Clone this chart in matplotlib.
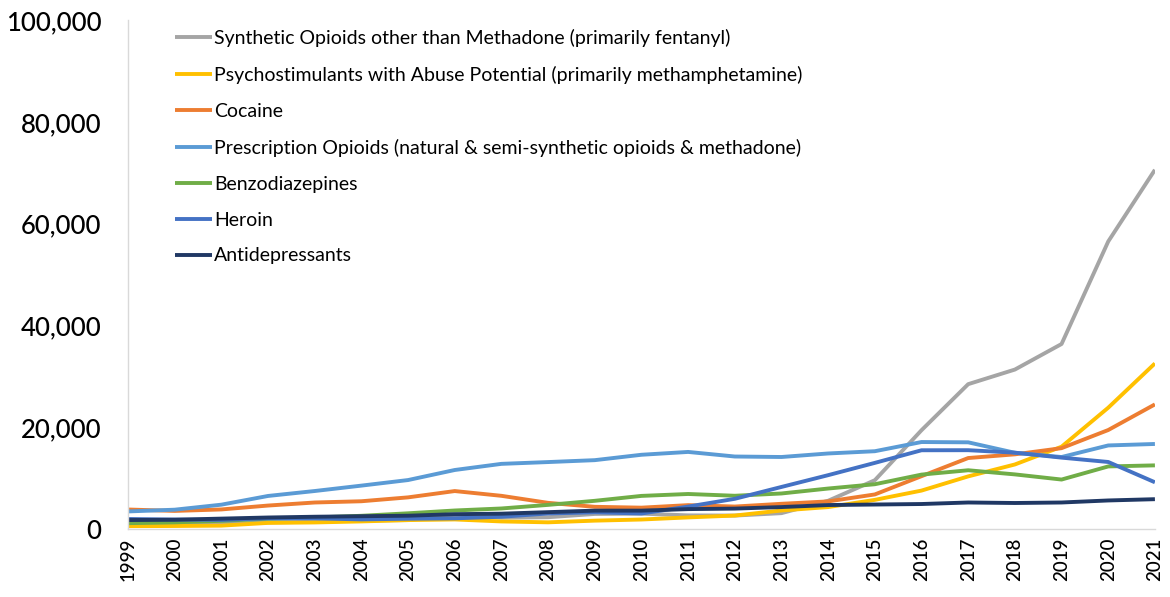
import matplotlib
matplotlib.use("Agg")
import matplotlib.pyplot as plt
from matplotlib.ticker import FuncFormatter

years = list(range(1999, 2022))

synthetic = [730, 782, 957, 1295, 1400, 1664, 1742, 2707, 2213, 2306, 2946, 3007,
             2666, 2628, 3105, 5544, 9580, 19413, 28466, 31335, 36359, 56516, 70601]
psychostim = [547, 578, 650, 1189, 1277, 1478, 1742, 1865, 1475, 1302, 1632, 1854,
              2266, 2635, 3627, 4298, 5716, 7542, 10333, 12676, 16167, 23837, 32537]
cocaine = [3822, 3544, 3833, 4599, 5199, 5443, 6208, 7448, 6512, 5129, 4350, 4183,
           4681, 4404, 4944, 5415, 6784, 10375, 13942, 14666, 15883, 19447, 24486]
rx_opioids = [3442, 3785, 4770, 6485, 7456, 8517, 9612, 11589, 12796, 13149, 13523, 14583,
              15140, 14240, 14145, 14838, 15281, 17087, 17029, 14975, 14139, 16416, 16706]
benzos = [1135, 1298, 1594, 2008, 2248, 2585, 3076, 3627, 4024, 4731, 5530, 6497,
          6872, 6524, 6973, 7945, 8791, 10684, 11537, 10724, 9711, 12290, 12499]
heroin = [1960, 1842, 1779, 2089, 2080, 1878, 2009, 2088, 2399, 3041, 3278, 3036,
          4397, 5925, 8257, 10574, 12989, 15469, 15482, 14996, 14019, 13165, 9173]
antidep = [1749, 1810, 2030, 2250, 2400, 2500, 2600, 2900, 3000, 3300, 3600, 3600,
           3900, 4000, 4300, 4700, 4800, 4900, 5200, 5100, 5200, 5600, 5850]

labels = [
    "Synthetic Opioids other than Methadone (primarily fentanyl)",
    "Psychostimulants with Abuse Potential (primarily methamphetamine)",
    "Cocaine",
    "Prescription Opioids (natural & semi-synthetic opioids & methadone)",
    "Benzodiazepines",
    "Heroin",
    "Antidepressants",
]
series = [synthetic, psychostim, cocaine, rx_opioids, benzos, heroin, antidep]
colors = ["#A5A5A5", "#FFC000", "#ED7D31", "#5B9BD5", "#70AD47", "#4472C4", "#203864"]

plt.rcParams["font.family"] = ["Lato", "DejaVu Sans"]

fig = plt.figure(figsize=(11.7, 5.97), dpi=100)
ax = fig.add_axes([0.1094, 0.114, 0.8777, 0.852])

for vals, lab, c in zip(series, labels, colors):
    ax.plot(years, vals, color=c, lw=2.8, label=lab, solid_capstyle="butt")

ax.set_xlim(1999, 2021)
ax.set_ylim(0, 100000)
ax.set_yticks(range(0, 100001, 20000))
ax.yaxis.set_major_formatter(FuncFormatter(lambda v, p: f"{int(v):,}"))
ax.set_xticks(years)
ax.set_xticklabels([str(y) for y in years], rotation=90, fontsize=13.5, fontweight="medium")
ax.tick_params(axis="y", labelsize=18.5, length=0, pad=19)
ax.tick_params(axis="x", length=0, pad=6)
for t in ax.get_yticklabels():
    t.set_fontweight("medium")

for s in ["top", "right"]:
    ax.spines[s].set_visible(False)
for s in ["left", "bottom"]:
    ax.spines[s].set_color("#D9D9D9")
    ax.spines[s].set_linewidth(1.0)

ax.legend(loc="upper left", bbox_to_anchor=(0.038, 0.998), frameon=False, fontsize=14,
          handlelength=1.9, handletextpad=0.12, labelspacing=0.97, borderaxespad=0.0)

fig.savefig("out.png", dpi=100)
